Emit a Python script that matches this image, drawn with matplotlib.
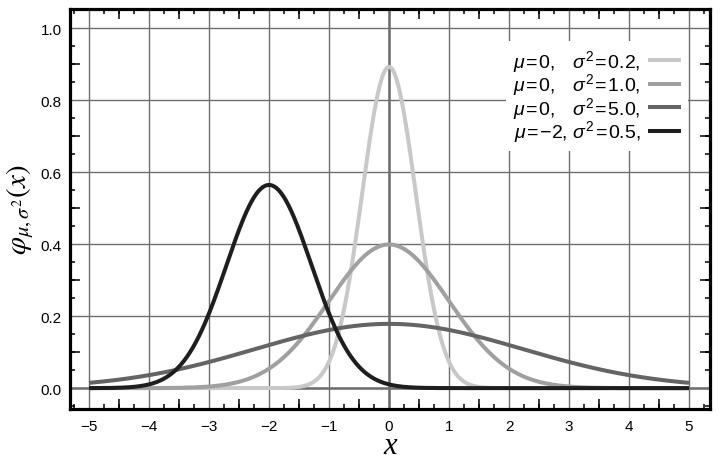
import numpy as np
import matplotlib
matplotlib.use("Agg")
import matplotlib.pyplot as plt
from matplotlib.ticker import MultipleLocator, FixedLocator, FormatStrFormatter

# --- data ---
mus = [0, 0, 0, -2]
variances = [0.2, 1.0, 5.0, 0.5]
mu_labels = ["0", "0", "0", "\u22122"]
var_labels = ["0.2", "1.0", "5.0", "0.5"]
line_colors = ["#c8c8c8", "#a0a0a0", "#646464", "#1e1e1e"]
x_range = (-5, 5)
x_ticks = [-5, -4, -3, -2, -1, 0, 1, 2, 3, 4, 5]
y_ticks = [0.0, 0.2, 0.4, 0.6, 0.8, 1.0]

plt.rcParams['font.family'] = ['Liberation Sans', 'DejaVu Sans']
plt.rcParams['mathtext.fontset'] = 'custom'
plt.rcParams['mathtext.rm'] = 'Liberation Sans'
plt.rcParams['mathtext.it'] = 'Liberation Sans:italic'
plt.rcParams['mathtext.bf'] = 'Liberation Sans:bold'
plt.rcParams['axes.unicode_minus'] = True

fig = plt.figure(figsize=(7.2, 4.6), dpi=100)
ax = fig.add_axes([70/720, 50/460, 640/720, 400/460])

xs = np.linspace(x_range[0], x_range[1], 600)
for mu, var, ml, vl, c in zip(mus, variances, mu_labels, var_labels, line_colors):
    pdf = np.exp(-(xs - mu) ** 2 / (2 * var)) / np.sqrt(2 * np.pi * var)
    gap = "\u2002\u2009\u2009" if len(ml) == 1 else " "
    lab = "$\\mu$\u200a=\u200a" + ml + "," + gap + "$\\sigma^2$\u200a=\u200a" + vl + ","
    ax.plot(xs, pdf, color=c, lw=2.9, label=lab, zorder=3, solid_capstyle='butt')

ax.set_xlim(-5.317, 5.35)
ax.set_ylim(-0.058, 1.0528)

# grid
ax.xaxis.set_major_locator(FixedLocator(x_ticks))
ax.yaxis.set_major_locator(FixedLocator(y_ticks))
ax.yaxis.set_major_formatter(FormatStrFormatter('%.1f'))
ax.grid(True, color='#6e6e6e', lw=1.0, zorder=1)
ax.axvline(0, color='#6e6e6e', lw=1.8, zorder=1.5)
ax.axhline(0, color='#6e6e6e', lw=1.8, zorder=1.5)

ax.xaxis.set_minor_locator(MultipleLocator(0.25))
ax.yaxis.set_minor_locator(MultipleLocator(0.05))
ax.tick_params(which='major', length=0, labelsize=11,
               top=False, right=False)
ax.tick_params(axis='x', which='major', pad=7)
ax.tick_params(axis='y', which='major', pad=6)
ax.tick_params(which='minor', direction='in', length=3.4, width=1.1,
               top=True, right=True, bottom=True, left=True, color='black')

# medium ticks at half steps
half_x = [v + 0.5 for v in x_ticks[:-1]]
half_y = [round(v + 0.1, 2) for v in y_ticks[:-1]]
for loc in ['bottom', 'top']:
    sa = ax.secondary_xaxis(loc)
    sa.xaxis.set_major_locator(FixedLocator(half_x))
    sa.tick_params(direction='in', length=7, width=1.1, labelbottom=False,
                   labeltop=False)
    for s in sa.spines.values():
        s.set_visible(False)
for loc in ['left', 'right']:
    sa = ax.secondary_yaxis(loc)
    sa.yaxis.set_major_locator(FixedLocator(half_y))
    sa.tick_params(direction='in', length=7, width=1.1, labelleft=False,
                   labelright=False)
    for s in sa.spines.values():
        s.set_visible(False)

for s in ax.spines.values():
    s.set_linewidth(2.3)
    s.set_zorder(5)

ax.set_xlabel('x', fontsize=22, family=['Liberation Serif', 'DejaVu Serif'],
              fontstyle='italic', labelpad=-1)
ax.set_ylabel(r'$\varphi_{\mu,\sigma^2}(x)$', fontsize=21,
              math_fontfamily='stix', labelpad=3)

leg = ax.legend(loc='upper right', bbox_to_anchor=(0.966, 0.92),
                markerfirst=False, frameon=True, fancybox=False,
                fontsize=14, handlelength=1.7, handletextpad=0.4,
                labelspacing=-0.12, borderpad=0.35, borderaxespad=0)
leg.get_frame().set_facecolor('white')
leg.get_frame().set_edgecolor('none')
leg.get_frame().set_alpha(1)
leg.set_zorder(4)

fig.savefig('out.png', dpi=100)
